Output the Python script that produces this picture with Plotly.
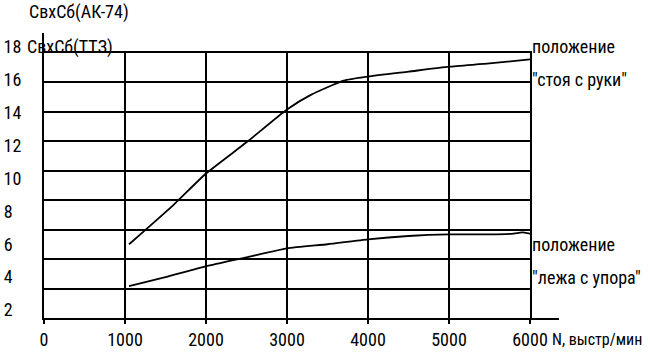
import plotly.graph_objects as go

# rate of fire, shots/min
rate_standing = [1050, 1600, 2000, 2500, 3000, 3300, 3700, 4000, 4500, 5000, 5500, 6000]
val_standing = [6.0, 8.4, 10.3, 12.2, 14.2, 15.1, 15.95, 16.2, 16.5, 16.8, 17.0, 17.25]

rate_prone = [1050, 1500, 2000, 2500, 3000, 3500, 4000, 4500, 5000, 5500, 5800, 5900, 6000]
val_prone = [3.45, 4.0, 4.65, 5.2, 5.75, 6.0, 6.3, 6.5, 6.6, 6.6, 6.65, 6.72, 6.65]

x_ticks = [0, 1000, 2000, 3000, 4000, 5000, 6000]
y_ticks = [2, 4, 6, 8, 10, 12, 14, 16, 18]
y_ticktext = [str(v) if v >= 10 else str(v) + "\u2007" for v in y_ticks]
grid_y = [0, 2, 4, 6, 8, 10, 12, 14, 16, 18]

FONT = "Roboto Condensed, DejaVu Sans Condensed, sans-serif"
FS_TICK = 18
FS_TEXT = 18

fig = go.Figure()
fig.add_trace(go.Scatter(x=rate_standing, y=val_standing, mode="lines",
                         line=dict(color="black", width=1.8, shape="spline", smoothing=0.5),
                         xaxis="x", yaxis="y", showlegend=False, hoverinfo="skip"))
fig.add_trace(go.Scatter(x=rate_prone, y=val_prone, mode="lines",
                         line=dict(color="black", width=1.8, shape="spline", smoothing=0.5),
                         xaxis="x", yaxis="y", showlegend=False, hoverinfo="skip"))
# grid subplot
fig.add_trace(go.Scatter(x=[None], y=[None], mode="lines", xaxis="x2", yaxis="y2",
                         showlegend=False, hoverinfo="skip"))

fig.update_layout(
    width=650, height=357,
    margin=dict(l=44, r=91, t=33, b=39),
    paper_bgcolor="white", plot_bgcolor="rgba(0,0,0,0)",
    font=dict(family=FONT, size=FS_TEXT, color="black"),
    xaxis=dict(domain=[0, 1], range=[0, 6358], anchor="y", automargin=False,
               tickvals=x_ticks, ticktext=[str(v) for v in x_ticks],
               showgrid=False, zeroline=False, showline=True, linecolor="black", linewidth=2,
               ticks="outside", ticklen=4, tickwidth=1.5, tickcolor="black",
               tickfont=dict(family=FONT, size=FS_TICK)),
    yaxis=dict(domain=[0, 1], range=[1.513, 18.85], anchor="x", automargin=False,
               tickvals=y_ticks, ticktext=y_ticktext,
               showgrid=False, zeroline=False, showline=True, linecolor="black", linewidth=2,
               ticks="", ticklabelstandoff=17,
               tickfont=dict(family=FONT, size=FS_TICK)),
    xaxis2=dict(domain=[0, 486 / 515], range=[0, 6000], anchor="y2", automargin=False,
                tickvals=x_ticks, showticklabels=False, ticks="",
                showgrid=True, gridcolor="black", gridwidth=2,
                zeroline=False, showline=True, mirror=True, linecolor="black", linewidth=2),
    yaxis2=dict(domain=[0, 265 / 285], range=[0, 18], anchor="x2", automargin=False,
                tickvals=grid_y, showticklabels=False, ticks="",
                showgrid=True, gridcolor="black", gridwidth=2,
                zeroline=False, showline=True, mirror=True, linecolor="black", linewidth=2),
)

ann = [
    dict(text="СвхСб(АК-74)", x=-0.033, y=1.074, xref="paper", yref="paper", size=FS_TEXT),
    dict(text="СвхСб(ТТЗ)", x=-0.037, y=0.951, xref="paper", yref="paper", size=FS_TEXT),
    dict(text="положение", x=6000, y=18.0, xref="x", yref="y", size=FS_TEXT),
    dict(text="\"стоя с руки\"", x=6000, y=16.0, xref="x", yref="y", size=FS_TEXT),
    dict(text="положение", x=6000, y=6.0, xref="x", yref="y", size=FS_TEXT),
    dict(text="\"лежа с упора\"", x=6000, y=4.0, xref="x", yref="y", size=FS_TEXT),
    dict(text="N, выстр/мин", x=0.9825, y=-0.077, xref="paper", yref="paper", size=16),
]
for a in ann:
    fig.add_annotation(text=a["text"], x=a["x"], y=a["y"], xref=a["xref"], yref=a["yref"],
                       xanchor="left", yanchor="middle", showarrow=False,
                       font=dict(family=FONT, size=a["size"], color="black"))

fig.write_html("out.html", config={"displayModeBar": False},
               post_script="document.body.style.margin='0';")
